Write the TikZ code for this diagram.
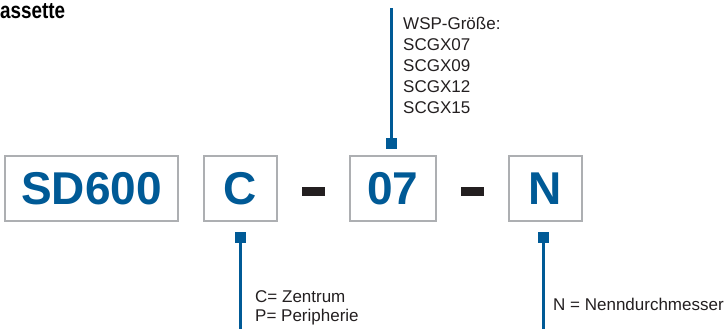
\documentclass[tikz,border=0pt]{standalone}
\usepackage{fontspec}
\setmainfont{Liberation Sans}
\newfontfamily\condfont{Liberation Sans}[FakeStretch=0.82]
\definecolor{codeblue}{HTML}{005A96}
\definecolor{boxgray}{HTML}{ADAFB2}
\definecolor{dashblack}{HTML}{231F20}
\definecolor{textgray}{HTML}{231F20}
\begin{document}
\begin{tikzpicture}[x=1pt,y=-1pt,
  codebox/.style={draw=boxgray,line width=2.5pt,fill=white,inner sep=0pt,
    text=codeblue,font=\bfseries\fontsize{46}{46}\selectfont},
  dashbar/.style={fill=dashblack,inner sep=0pt,minimum width=23pt,minimum height=9pt},
  sq/.style={fill=codeblue,inner sep=0pt,minimum size=11pt},
  conn/.style={draw=codeblue,line width=2.6pt},
  note/.style={text=textgray,inner sep=0pt,align=left,anchor=base west}]
\useasboundingbox (0,0) rectangle (728,329);
% title (cut off at left)
\node[anchor=base west,inner sep=0pt,font=\condfont\bfseries\fontsize{23}{23}\selectfont] (title) at (0,18.3) {assette};
% code boxes
\node[codebox,minimum width=173pt,minimum height=65pt] (sd) at (91.5,188.5) {SD600};
\node[codebox,minimum width=73pt,minimum height=65pt] (c) at (240.5,188.5) {C};
\node[dashbar] (d1) at (313.5,191.5) {};
\node[codebox,minimum width=86pt,minimum height=65pt] (s) at (393,188.5) {07};
\node[dashbar] (d2) at (472.5,191.5) {};
\node[codebox,minimum width=73pt,minimum height=65pt] (n) at (545.5,188.5) {N};
% connectors
\node[sq] (sqs) at (391.5,143.5) {};
\coordinate (tops) at (391.5,8);
\draw[conn] (sqs.north) -- (tops);
\node[sq] (sqc) at (240.5,237.5) {};
\coordinate (botc) at (240.5,329);
\draw[conn] (sqc.south) -- (botc);
\node[sq] (sqn) at (543.5,237.5) {};
\coordinate (botn) at (543.5,329);
\draw[conn] (sqn.south) -- (botn);
% notes (anchored at the baseline of the last line)
\node[note,font=\fontsize{17}{21}\selectfont] (ts) at (403,113.5) {WSP-Größe:\\SCGX07\\SCGX09\\SCGX12\\SCGX15};
\node[note,font=\fontsize{17}{19}\selectfont] (tc) at (255,321) {C= Zentrum\\P= Peripherie};
\node[note,font=\fontsize{17}{19}\selectfont] (tn) at (553,310) {N = Nenndurchmesser};
\end{tikzpicture}
\end{document}
